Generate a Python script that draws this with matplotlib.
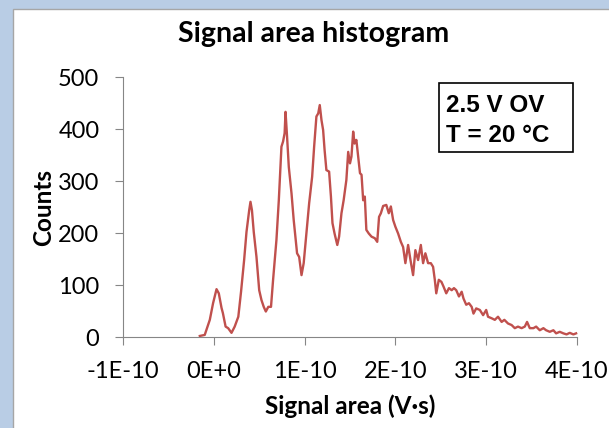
import numpy as np
import matplotlib.pyplot as plt
from matplotlib.patches import Rectangle
from matplotlib.ticker import FixedLocator, FixedFormatter

# signal area in units of 1E-10 V*s
area_e10 = [
    -0.154, -0.10, -0.044, -0.008, 0.03, 0.055, 0.085, 0.10, 0.13, 0.158,
    0.195, 0.23, 0.27, 0.30, 0.334, 0.36, 0.39, 0.404, 0.42, 0.44,
    0.47, 0.50, 0.525, 0.55, 0.573, 0.60, 0.63, 0.653, 0.69, 0.716,
    0.745, 0.763, 0.78, 0.79, 0.807, 0.826, 0.856, 0.88, 0.917, 0.94,
    0.966, 0.99, 1.02, 1.05, 1.083, 1.105, 1.13, 1.15, 1.167, 1.186,
    1.204, 1.22, 1.24, 1.27, 1.29, 1.307, 1.33, 1.36, 1.38, 1.406,
    1.43, 1.46, 1.48, 1.50, 1.516, 1.535, 1.55, 1.57, 1.59, 1.61,
    1.627, 1.645, 1.663, 1.68, 1.707, 1.737, 1.773, 1.80, 1.82, 1.84,
    1.865, 1.90, 1.927, 1.95, 1.975, 2.0, 2.03, 2.06, 2.085, 2.11,
    2.14, 2.166, 2.195, 2.22, 2.25, 2.28, 2.305, 2.33, 2.36, 2.39,
    2.415, 2.434, 2.45, 2.478, 2.507, 2.53, 2.56, 2.59, 2.62, 2.645,
    2.67, 2.70, 2.73, 2.75, 2.78, 2.81, 2.84, 2.86, 2.89, 2.93,
    2.966, 3.0, 3.02, 3.06, 3.095, 3.13, 3.17, 3.20, 3.24, 3.28,
    3.315, 3.35, 3.39, 3.425, 3.45, 3.48, 3.52, 3.55, 3.59, 3.63,
    3.66, 3.70, 3.74, 3.77, 3.81, 3.85, 3.885, 3.92, 3.96, 3.99,
]
counts = [
    2, 4, 33, 65, 92, 84, 56, 46, 20, 17,
    8, 20, 39, 87, 148, 202, 244, 260, 244, 202,
    154, 90, 71, 58, 49, 58, 58, 110, 187, 263,
    366, 376, 392, 433, 385, 327, 276, 225, 161, 154,
    119, 142, 199, 257, 308, 366, 424, 430, 446, 417,
    398, 360, 321, 318, 270, 219, 199, 177, 193, 238,
    263, 302, 356, 334, 347, 395, 372, 379, 347, 315,
    312, 263, 270, 206, 199, 193, 190, 183, 231, 238,
    252, 254, 238, 251, 225, 212, 199, 183, 173, 142,
    177, 148, 119, 167, 148, 177, 142, 161, 142, 142,
    135, 110, 84, 110, 106, 97, 84, 94, 90, 94,
    90, 78, 87, 74, 62, 65, 58, 45, 55, 52,
    42, 52, 39, 36, 33, 39, 29, 33, 26, 23,
    17, 20, 17, 20, 29, 17, 17, 20, 13, 17,
    13, 10, 13, 7, 10, 7, 5, 8, 5, 7,
]

xtick_vals = [-1e-10, 0.0, 1e-10, 2e-10, 3e-10, 4e-10]
xtick_labels = ["-1E-10", "0E+0", "1E-10", "2E-10", "3E-10", "4E-10"]
ytick_vals = [0, 100, 200, 300, 400, 500]

font = "Lato"
grey = "#868686"

fig = plt.figure(figsize=(6.09, 4.28), dpi=100)
fig.patch.set_facecolor("#B9CDE5")
# white chart panel
fig.add_artist(Rectangle((13 / 609, -0.05), 1.2, 1 - 9 / 428 + 0.05,
                         transform=fig.transFigure, facecolor="white",
                         edgecolor="#A6A6A6", lw=1.0, zorder=0))

ax = fig.add_axes([123 / 609, 1 - 337 / 428, 454 / 609, 260 / 428])
ax.set_facecolor("none")

x = np.array(area_e10) * 1e-10
ax.plot(x, counts, color="#C0504D", lw=1.7, clip_on=False)

ax.set_xlim(-1e-10, 4e-10)
ax.set_ylim(0, 500)
ax.xaxis.set_major_locator(FixedLocator(xtick_vals))
ax.xaxis.set_major_formatter(FixedFormatter(xtick_labels))
ax.set_yticks(ytick_vals)

for s in ["top", "right"]:
    ax.spines[s].set_visible(False)
for s in ["left", "bottom"]:
    ax.spines[s].set_color(grey)
    ax.spines[s].set_linewidth(0.8)

ax.tick_params(axis="both", colors=grey, length=6, width=0.8,
               labelcolor="black", labelsize=17)
ax.tick_params(axis="y", pad=11)
ax.tick_params(axis="x", pad=11)
for lbl in ax.get_xticklabels() + ax.get_yticklabels():
    lbl.set_fontfamily(font)

fig.text(314 / 609, 1 - 42 / 428, "Signal area histogram", ha="center",
         va="baseline", fontsize=20.5, fontweight="bold", family=font)
fig.text(350 / 609, 1 - 406 / 428, "Signal area (V\u00b7s)", ha="center",
         va="center", fontsize=17.5, fontweight="bold", family=font)
fig.text(44 / 609, 1 - 207 / 428, "Counts", ha="center", va="center",
         rotation=90, fontsize=17.5, fontweight="bold", family=font)

# condition box
fig.add_artist(Rectangle((439 / 609, 1 - 152 / 428), 134 / 609, 69 / 428,
                         transform=fig.transFigure, facecolor="white",
                         edgecolor="black", lw=1.2, zorder=3))
fig.text(446 / 609, 1 - 112 / 428, "2.5 V OV", ha="left", va="baseline",
         fontsize=17.5, fontweight="bold", family="Liberation Sans", zorder=4)
fig.text(446 / 609, 1 - 142.5 / 428, "T = 20 \u00b0C", ha="left",
         va="baseline", fontsize=17.5, fontweight="bold",
         family="Liberation Sans", zorder=4)

plt.savefig("out.png", dpi=100)
plt.close()
